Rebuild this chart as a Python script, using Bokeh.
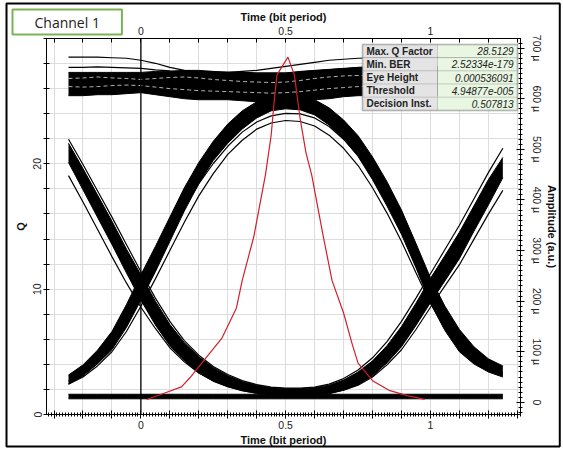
from bokeh.plotting import figure
from bokeh.models import Range1d, LinearAxis, FixedTicker, Span, BoxAnnotation, Label, Title
from bokeh.embed import file_html
from bokeh.resources import INLINE

# ---------------------------------------------------------------------------
# Eye diagram of channel 1: sampled trace bundles (amplitude in micro units)
# ---------------------------------------------------------------------------
t = [-0.25, -0.20, -0.15, -0.10, -0.05, 0.00, 0.05, 0.10, 0.15, 0.20, 0.25,
     0.30, 0.35, 0.40, 0.45, 0.50, 0.55, 0.60, 0.65, 0.70, 0.75, 0.80,
     0.85, 0.90, 0.95, 1.00, 1.05, 1.10, 1.15, 1.20, 1.25]

# 1-0-1 bundle (falling edge, low bottom, rising edge)
u_hi = [512, 462, 410, 358, 303, 252, 200, 154, 118, 90, 69, 53, 41, 34, 29,
        27, 27, 29, 34, 44, 60, 82, 112, 150, 196, 245, 290, 336, 388, 440, 484]
u_lo = [474, 420, 366, 312, 256, 202, 153, 112, 82, 58, 42, 31, 23, 18, 15,
        13, 13, 14, 17, 24, 35, 52, 78, 110, 152, 197, 240, 284, 338, 390, 444]
u_out1 = [448, 396, 342, 288, 236, 188, 146, 108, 80, 58, 42, 31, 23, 18, 15,
          14, 14, 15, 18, 24, 34, 50, 74, 104, 144, 188, 230, 272, 322, 372, 419]
u_out2 = [520, 470, 418, 366, 312, 258, 206, 160, 122, 93, 71, 55, 43, 35, 30,
          28, 28, 30, 36, 47, 64, 88, 120, 160, 206, 254, 302, 350, 402, 454, 502]

# 0-1-0 bundle (rising edge, high top, falling edge)
cap_hi = [54, 74, 103, 140, 193, 252, 308, 366, 424, 474, 516, 550, 576, 594, 604,
          607, 606, 598, 582, 558, 527, 485, 436, 380, 314, 246, 190, 144, 110, 86, 72]
cap_lo = [36, 52, 76, 104, 148, 202, 258, 318, 378, 432, 478, 512, 540, 562, 576,
          580, 578, 568, 548, 520, 486, 440, 388, 332, 266, 196, 142, 100, 76, 60, 50]
cap_out1 = [36, 50, 72, 100, 140, 190, 244, 300, 356, 408, 452, 490, 518, 540, 552,
            557, 555, 546, 528, 502, 468, 424, 374, 318, 256, 196, 146, 108, 82, 64, 54]
cap_out2 = [42, 60, 86, 120, 166, 220, 274, 330, 384, 432, 472, 506, 534, 554, 566,
            571, 570, 562, 545, 520, 488, 446, 396, 340, 278, 214, 160, 118, 90, 70, 58]

# 1-1-1 bundle
top_hi = [652, 652, 652, 652, 652, 652, 654, 654, 656, 656, 654, 652, 652, 650, 650,
          650, 654, 656, 658, 660, 662, 664, 664, 664, 664, 664, 664, 664, 664, 664, 664]
top_lo = [606, 606, 608, 608, 610, 612, 608, 604, 600, 598, 598, 598, 596, 594, 594,
          594, 596, 598, 600, 604, 606, 606, 606, 606, 606, 606, 606, 606, 606, 606, 606]
top_mid1 = [640, 641, 643, 641, 640, 638, 640, 642, 643, 641, 638, 636, 634, 633, 632,
            633, 636, 640, 643, 645, 646, 646, 645, 644, 644, 645, 646, 646, 645, 644, 644]
top_mid2 = [624, 623, 624, 626, 627, 626, 623, 620, 618, 616, 615, 614, 613, 612, 611,
            612, 614, 617, 620, 622, 624, 625, 625, 624, 623, 623, 624, 625, 625, 624, 624]
top_out1 = [682, 682, 682, 681, 680, 676, 670, 662, 656, 652, 652, 652, 654, 656, 660,
            664, 668, 672, 676, 678, 680, 681, 682, 682, 682, 682, 682, 682, 682, 682, 682]
top_out2 = [662, 662, 663, 662, 661, 660, 657, 655, 654, 654, 653, 652, 652, 651, 651,
            651, 653, 655, 657, 659, 661, 662, 663, 663, 663, 662, 662, 662, 662, 662, 662]

# 0-0-0 bundle
low_hi = [16] * 31
low_lo = [7] * 31

# Q factor versus sampling instant
max_q = 28.5129
decision_t = 0.507813
q_t = [0.02, 0.08, 0.14, 0.17, 0.21, 0.28, 0.33, 0.35, 0.39, 0.43, 0.45, 0.46, 0.47,
       decision_t, 0.53, 0.55, 0.57, 0.59, 0.63, 0.66, 0.70, 0.73, 0.75, 0.80, 0.86,
       0.92, 0.98]
q_val = [1.2, 1.7, 2.2, 2.95, 4.1, 6.1, 8.5, 10.7, 14.2, 19.1, 22.3, 24.9, 27.1,
         max_q, 27.1, 23.6, 20.9, 19.1, 14.2, 10.7, 8.1, 5.6, 4.1, 2.7, 1.9, 1.5, 1.2]

# Result table
table_names = ["Max. Q Factor", "Min. BER", "Eye Height", "Threshold", "Decision Inst."]
table_values = ["%.4f" % max_q, "2.52334e-179", "0.000536091", "4.94877e-005", "%.6f" % decision_t]

# Axis ticks
x_major = [round(-0.3 + 0.1 * i, 1) for i in range(17)]
x_minor = [round(-0.32 + 0.01 * i, 2) for i in range(164)]
x_labels = {0.0: "0", 0.5: "0.5", 1.0: "1"}
q_major = list(range(0, 31, 2))
q_labels = {0: "0", 10: "10", 20: "20"}
amp_major = list(range(0, 701, 100))
amp_minor = list(range(-20, 720, 10))
amp_labels = ["0", "100 µ", "200 µ", "300 µ", "400 µ", "500 µ", "600 µ", "700 µ"]

# ---------------------------------------------------------------------------
W, H = 563, 452
FL, FR, FT, FB = 46, 520, 38, 414   # plot frame edges on the page

p = figure(width=W, height=H, x_range=Range1d(-0.326, 1.311), y_range=Range1d(0, 30),
           output_backend="svg", toolbar_location=None,
           min_border_left=FL, min_border_right=W - FR,
           min_border_top=FT, min_border_bottom=H - FB)
p.extra_y_ranges = {"amp": Range1d(-24, 719)}
p.background_fill_color = "white"
p.border_fill_color = "white"
p.outline_line_color = "black"

FONT = "Liberation Sans"


def style_axis(ax, ticks, labels, tin, tout, mtin=0, mtout=0):
    ax.major_label_overrides = {v: labels.get(v, "") for v in ticks}
    ax.major_tick_in = tin
    ax.major_tick_out = tout
    ax.minor_tick_in = mtin
    ax.minor_tick_out = mtout
    ax.axis_line_color = "black"
    ax.major_tick_line_color = "black"
    ax.minor_tick_line_color = "black"
    ax.major_label_text_font = FONT
    ax.major_label_text_font_size = "10.5px"
    ax.major_label_text_color = "#222222"
    ax.axis_label_text_font = FONT
    ax.axis_label_text_font_style = "bold"
    ax.axis_label_text_font_size = "11px"
    ax.axis_label_text_color = "#111111"


# bottom time axis
xb = p.xaxis[0]
xb.ticker = FixedTicker(ticks=x_major, minor_ticks=x_minor)
style_axis(xb, x_major, x_labels, 4, 4, 2, 2)
xb.axis_label = "Time (bit period)"
xb.major_label_standoff = 2
xb.axis_label_standoff = 2

# top time axis
xt = LinearAxis(ticker=FixedTicker(ticks=x_major), axis_label="Time (bit period)")
style_axis(xt, x_major, x_labels, 4, 0)
xt.major_label_standoff = 4
xt.axis_label_standoff = 1
p.add_layout(xt, "above")

# left Q axis
yl = p.yaxis[0]
yl.ticker = FixedTicker(ticks=q_major)
style_axis(yl, q_major, q_labels, 3, 3)
yl.axis_label = "Q"
yl.major_label_orientation = "parallel"
yl.major_label_standoff = 2
yl.axis_label_standoff = 4

# right amplitude axis
yr = LinearAxis(y_range_name="amp", ticker=FixedTicker(ticks=amp_major, minor_ticks=amp_minor),
                axis_label="Amplitude (a.u.)")
style_axis(yr, amp_major, dict(zip(amp_major, amp_labels)), 4, 4, 2, 2)
yr.major_label_orientation = "parallel"
yr.major_label_standoff = 6
yr.axis_label_standoff = 0
p.add_layout(yr, "right")

p.xgrid.ticker = FixedTicker(ticks=x_major)
p.ygrid.ticker = FixedTicker(ticks=q_major)
p.xgrid.grid_line_color = "#dcdcdc"
p.ygrid.grid_line_color = "#dcdcdc"

# channel tag, drawn as the plot title in the top margin
p.title.text = "Channel 1"
p.title.align = "left"
p.title.offset = -34
p.title.standoff = -54
p.title.vertical_align = "bottom"
p.title.text_font = "Open Sans"
p.title.text_font_size = "14px"
p.title.text_font_style = "normal"
p.title.text_color = "#222222"
p.title.background_fill_color = "white"
p.title.border_line_color = "#7ab356"
p.title.border_line_width = 2
p.title.padding = dict(left=22, right=22, top=3, bottom=3)

# page border around the whole chart, hung from the bottom margin
p.add_layout(Title(text=" ", align="left", offset=-40, standoff=-890, vertical_align="top",
                   text_font_size="1px", background_fill_color=None,
                   border_line_color="black", border_line_width=2,
                   padding=dict(left=276, right=277, top=221, bottom=221)), "below")

# trace bundles
for lo, hi in [(low_lo, low_hi), (u_lo, u_hi), (cap_lo, cap_hi), (top_lo, top_hi)]:
    p.varea(x=t, y1=lo, y2=hi, fill_color="black", y_range_name="amp")
    p.line(t, lo, line_color="black", line_width=1, y_range_name="amp")
    p.line(t, hi, line_color="black", line_width=1, y_range_name="amp")
# gaps between the individual traces of the 1-1-1 bundle
for tr in [top_mid1, top_mid2]:
    p.line(t, tr, line_color="white", line_width=0.7, line_dash="4 3", y_range_name="amp")
for tr in [u_out1, u_out2, cap_out1, cap_out2, top_out1, top_out2]:
    p.line(t, tr, line_color="black", line_width=1.2, y_range_name="amp")

# Q factor curve
p.line(q_t, q_val, line_color="#d0202a", line_width=1.2)

p.add_layout(Span(location=0, dimension="height", line_color="black", line_width=1.3))


def sx(px):
    return px - FL


def sy(py):
    return FB - py


# results table
TL, TM, TR, TT, TB = 362, 437, 517, 44, 110
row_h = (TB - TT) / len(table_names)
for i, (name, val) in enumerate(zip(table_names, table_values)):
    top = TT + i * row_h
    bot = top + row_h
    p.add_layout(BoxAnnotation(left=sx(TL), right=sx(TM), top=sy(top), bottom=sy(bot),
                               left_units="screen", right_units="screen",
                               top_units="screen", bottom_units="screen",
                               fill_color="#e4e4e4", fill_alpha=1,
                               line_color="#8a8a8a", line_width=1))
    p.add_layout(BoxAnnotation(left=sx(TM), right=sx(TR), top=sy(top), bottom=sy(bot),
                               left_units="screen", right_units="screen",
                               top_units="screen", bottom_units="screen",
                               fill_color="#e8f6e2", fill_alpha=1,
                               line_color="#8a8a8a", line_width=1))
    p.add_layout(Label(x=sx(TL + 4), y=sy((top + bot) / 2), x_units="screen", y_units="screen",
                       text=name, text_font=FONT, text_font_style="bold",
                       text_font_size="10px", text_baseline="middle", text_color="#222222"))
    p.add_layout(Label(x=sx(TR - 4), y=sy((top + bot) / 2), x_units="screen", y_units="screen",
                       text=val, text_font=FONT, text_font_style="italic",
                       text_font_size="10px", text_baseline="middle", text_align="right",
                       text_color="#222222"))
p.add_layout(BoxAnnotation(left=sx(TL), right=sx(TR), top=sy(TT), bottom=sy(TB),
                           left_units="screen", right_units="screen",
                           top_units="screen", bottom_units="screen",
                           fill_alpha=0, line_color="#6a6a6a", line_width=2))

open("out.html", "w").write(file_html(p, INLINE))
